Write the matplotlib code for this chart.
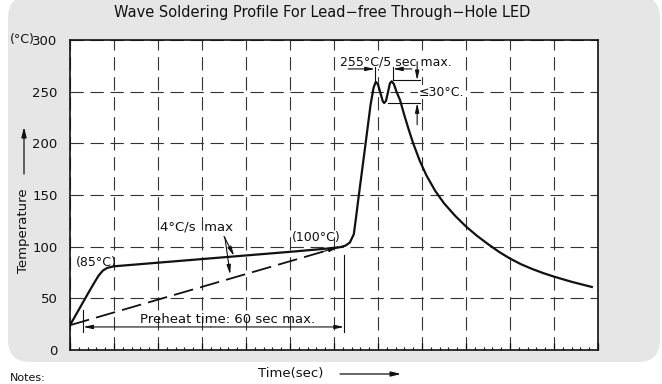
import matplotlib.pyplot as plt
from matplotlib.patches import FancyBboxPatch

# wave soldering temperature profile (time in sec, temperature in degC)
profile_time = [0, 2, 4, 5.5, 6.5, 7.5, 8.5, 10, 20, 30, 40, 50, 58, 61.4, 62.6, 63.6,
                64.5, 65.0, 65.5, 67.0, 68.3, 69.0, 69.5, 70.0, 70.6, 71.1, 71.4, 71.8,
                72.3, 72.7, 73.1, 73.6, 74.2, 75.0, 76, 77, 78, 79.5, 81, 83, 85, 87.5,
                90, 92.5, 95, 97.5, 100, 102.5, 105, 107.5, 110, 114, 118.6]
profile_temp = [24, 39, 54, 65, 72, 77, 79.5, 81, 84.5, 88, 91.5, 95, 98, 99.5, 101,
                104, 112, 128, 145, 194, 237, 254, 259.5, 257, 248, 240.5, 239, 241,
                250, 258, 260, 257.5, 250, 242, 227, 213, 200, 183, 169, 154, 142, 130,
                119.5, 110.5, 102.5, 95, 88.5, 83, 78.5, 74.5, 71, 66, 61]

# 4 degC/s max ramp guide
ramp_time = [0, 61]
ramp_temp = [24, 99.5]

y_ticks = [0, 50, 100, 150, 200, 250, 300]
x_major = list(range(0, 121, 10))
x_minor = list(range(0, 121, 2))

INK = '#111111'

fig = plt.figure(figsize=(6.62, 3.84), dpi=100)

# grey rounded backdrop, drawn in pixel units
bg = fig.add_axes([0, 0, 1, 1], zorder=0)
bg.set_xlim(0, 662)
bg.set_ylim(384, 0)
bg.axis('off')
bg.add_patch(FancyBboxPatch((8, -4), 652, 366, boxstyle='round,pad=0,rounding_size=22',
                            fc='#e6e6e6', ec='none'))
bg.text(322, 13, 'Wave Soldering Profile For Lead\u2212free Through\u2212Hole LED',
        ha='center', va='center', fontsize=10.5, color=INK)
bg.text(10, 40, '(°C)', ha='left', va='center', fontsize=9, color=INK)
bg.text(24, 231, 'Temperature', rotation=90, ha='center', va='center', fontsize=9.5, color=INK)
bg.annotate('', xy=(24, 127), xytext=(24, 174),
            arrowprops=dict(arrowstyle='-|>,head_length=0.6,head_width=0.15', color=INK,
                            lw=0.9, shrinkA=0, shrinkB=0))
bg.text(291, 373, 'Time(sec)', ha='center', va='center', fontsize=9.5, color=INK)
bg.annotate('', xy=(401, 374), xytext=(340, 374),
            arrowprops=dict(arrowstyle='-|>,head_length=0.6,head_width=0.15', color=INK,
                            lw=0.9, shrinkA=0, shrinkB=0))
bg.text(10, 383, 'Notes:', ha='left', va='bottom', fontsize=8, color=INK)

ax = fig.add_axes([70 / 662, 34 / 384, 528 / 662, 310 / 384], zorder=1)
ax.set_facecolor('white')
ax.set_xlim(0, 120)
ax.set_ylim(0, 300)
ax.set_yticks(y_ticks)
ax.set_xticks(x_major)
ax.set_xticks(x_minor, minor=True)
ax.set_xticklabels([])
ax.tick_params(axis='y', length=0, pad=9, labelsize=9.5, labelcolor=INK)
ax.tick_params(axis='x', which='major', direction='in', length=5, width=0.9, color=INK)
ax.tick_params(axis='x', which='minor', direction='in', length=2.5, width=0.8, color=INK)
for s in ax.spines.values():
    s.set_linewidth(1.2)
    s.set_color(INK)
ax.grid(True, which='major', color='#333333', lw=0.8, linestyle=(0, (12, 6)))

# profile and max ramp guide
ax.plot(profile_time, profile_temp, color=INK, lw=1.6, zorder=3, solid_joinstyle='round')
ax.plot(ramp_time, ramp_temp, color=INK, lw=1.3, linestyle=(0, (11, 4)), zorder=3)


def arrow(x0, y0, x1, y1):
    ax.annotate('', xy=(x1, y1), xytext=(x0, y0), annotation_clip=False,
                arrowprops=dict(arrowstyle='-|>,head_length=0.55,head_width=0.12',
                                color=INK, lw=0.8, shrinkA=0, shrinkB=0), zorder=4)


def seg(xs, ys):
    ax.plot(xs, ys, color=INK, lw=0.8, zorder=4)


arrow(57, 94.6, ramp_time[1], ramp_temp[1])

ax.text(1.4, 85, '(85°C)', ha='left', va='center', fontsize=9, color=INK)
ax.text(50.5, 109, '(100°C)', ha='left', va='center', fontsize=9, color=INK)
ax.text(20.5, 119, '4°C/s  max', ha='left', va='center', fontsize=9.5, color=INK)
arrow(35, 110, 37.3, 91)
arrow(35.2, 109, 36.4, 73)

# preheat dimension
seg([3, 3], [17.5, 38.5])
seg([62.3, 62.3], [17.5, 92])
arrow(32, 22.3, 3, 22.3)
arrow(32, 22.3, 62.3, 22.3)
ax.text(35.9, 29.5, 'Preheat time: 60 sec max.', ha='center', va='center',
        fontsize=9.5, color=INK)

# peak time dimension
ax.text(61.4, 278.5, '255°C/5 sec max.', ha='left', va='center', fontsize=9, color=INK,
        bbox=dict(fc='white', ec='none', pad=0.5), zorder=4)
seg([69.3, 69.3], [261, 274])
seg([73.4, 73.4], [261, 274])
arrow(63.2, 272, 69.3, 272)
arrow(77.7, 272, 73.4, 272)

# peak dip dimension
seg([73.4, 79.5], [261, 261])
seg([72.3, 79.5], [239, 239])
arrow(78.9, 279, 78.9, 261)
arrow(78.9, 218, 78.9, 239)
ax.text(79.3, 249.5, '≤30°C.', ha='left', va='center', fontsize=9, color=INK,
        bbox=dict(fc='white', ec='none', pad=0.5), zorder=4)

fig.savefig('out.png', dpi=100)
